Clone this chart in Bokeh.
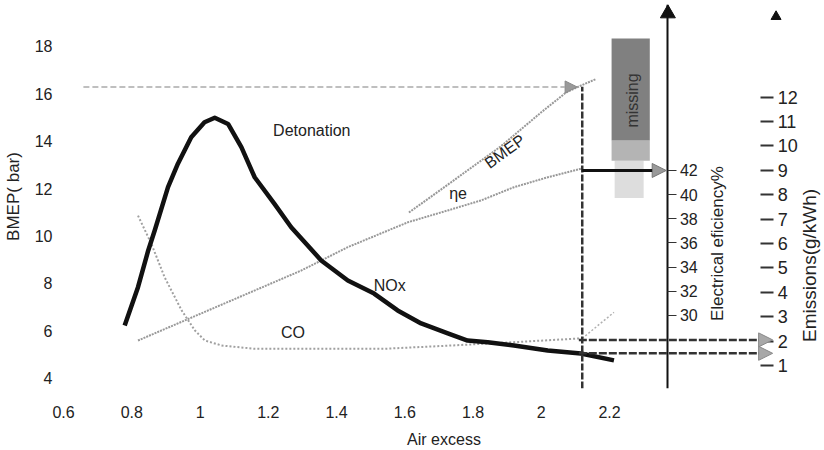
import math
from bokeh.plotting import figure
from bokeh.models import Range1d, LinearAxis, FixedTicker, Arrow, NormalHead
from bokeh.core.properties import value
from bokeh.embed import file_html
from bokeh.resources import INLINE

FONT = "Liberation Sans"

# ---- axes ----
X_TICKS = [0.6, 0.8, 1.0, 1.2, 1.4, 1.6, 1.8, 2.0, 2.2]
X_TICK_LABELS = ["0.6", "0.8", "1", "1.2", "1.4", "1.6", "1.8", "2", "2.2"]
BMEP_TICKS = [4, 6, 8, 10, 12, 14, 16, 18]
EFF_TICKS = [30, 32, 34, 36, 38, 40, 42]
EMIS_TICKS = [1, 2, 3, 4, 5, 6, 7, 8, 9, 10, 11, 12]

# ---- curves (air excess vs. BMEP-scale position) ----
NOX_LAMBDA = [0.779, 0.818, 0.848, 0.867, 0.906, 0.935, 0.974, 1.013, 1.043, 1.082,
              1.121, 1.160, 1.218, 1.267, 1.355, 1.433, 1.510, 1.579, 1.648, 1.726,
              1.784, 1.843, 1.920, 2.019, 2.116, 2.213]
NOX_Y = [6.22, 7.84, 9.39, 10.23, 12.06, 13.05, 14.17, 14.80, 14.99, 14.73,
         13.75, 12.48, 11.36, 10.37, 8.97, 8.12, 7.57, 6.86, 6.31, 5.89,
         5.59, 5.52, 5.38, 5.17, 5.04, 4.75]

CO_LAMBDA = [0.818, 0.857, 0.896, 0.946, 0.985, 1.014, 1.063, 1.160, 1.306, 1.540,
             1.736, 1.920, 2.116]
CO_Y = [10.86, 9.68, 8.26, 6.86, 6.01, 5.59, 5.38, 5.24, 5.24, 5.24,
        5.38, 5.52, 5.68]

ETA_LAMBDA = [0.818, 1.296, 1.433, 1.609, 1.726, 1.823, 1.920, 2.019, 2.116]
ETA_Y = [5.59, 8.54, 9.53, 10.58, 11.08, 11.50, 12.06, 12.48, 12.84]

BMEP_LAMBDA = [1.612, 1.735, 1.881, 1.999, 2.072, 2.116, 2.160]
BMEP_Y = [10.99, 12.26, 13.78, 15.21, 16.05, 16.35, 16.62]

# ---- detonation limit and operating point ----
DET_LIMIT_BMEP = 16.29
DET_LIMIT_LAMBDA = [0.658, 2.105]
LAMBDA_OP = 2.12
LAMBDA_OP_BMEP = [3.565, 16.3]
ETA_OP = 42
CO_OP = 2.05
NOX_OP = 1.5
CO_TAIL_LAMBDA = [2.12, 2.213]
CO_TAIL_Y = [5.68, 6.78]
EFF_AXIS_LAMBDA = 2.371
EMIS_AXIS_LAMBDA = 2.643
EMIS_ARROW_TIP = 2.678

# ---- "missing" box ----
BOX_LAMBDA = [2.206, 2.318]
BOX_DARK_BMEP = [14.03, 18.33]
BOX_LIGHT_BMEP = [13.18, 14.03]
BOX_FAINT_LAMBDA = [2.215, 2.300]
BOX_FAINT_BMEP = [11.6, 13.18]
BOX_TEXT_POS = (2.268, 15.72)

# ---- text labels ----
LABELS = ["Detonation", "NOx", "CO", "ηe"]
LABEL_LAMBDA = [1.214, 1.509, 1.237, 1.73]
LABEL_Y = [14.45, 7.91, 5.93, 11.79]
BMEP_LABEL_POS = (1.893, 13.57)
EFF_TITLE = "Electrical eficiency%"
EFF_TITLE_POS = (2.517, 9.68)
EMIS_TITLE = "Emissions(g/kWh)"
EMIS_TITLE_POS = (2.787, 8.76)

p = figure(width=824, height=450,
           x_range=Range1d(0.5997, 2.830), y_range=Range1d(3.565, 19.77),
           output_backend="svg", toolbar_location=None,
           min_border_left=62, min_border_right=0, min_border_top=4, min_border_bottom=62)
p.extra_y_ranges = {"eff": Range1d(23.95, 55.74), "emis": Range1d(0.057, 15.80)}
p.grid.visible = False
p.outline_line_color = None
p.background_fill_color = "white"
p.border_fill_color = "white"

# x axis
xa = p.xaxis[0]
xa.ticker = FixedTicker(ticks=X_TICKS)
xa.major_label_overrides = {t: l for t, l in zip(X_TICKS, X_TICK_LABELS)}
xa.axis_line_color = None
xa.major_tick_line_color = None
xa.minor_tick_line_color = None
xa.major_label_standoff = 11
xa.major_label_text_font = FONT
xa.major_label_text_font_size = "16px"
xa.major_label_text_color = "#222222"
xa.axis_label = "Air excess"
xa.axis_label_text_font = FONT
xa.axis_label_text_font_size = "16px"
xa.axis_label_text_font_style = "normal"
xa.axis_label_text_color = "#222222"
xa.axis_label_standoff = 10

ya = p.yaxis[0]
ya.ticker = FixedTicker(ticks=BMEP_TICKS)
ya.axis_line_color = None
ya.major_tick_line_color = None
ya.minor_tick_line_color = None
ya.major_label_standoff = 5
ya.major_label_text_font = FONT
ya.major_label_text_font_size = "16px"
ya.major_label_text_color = "#222222"
ya.axis_label = "BMEP( bar)"
ya.axis_label_text_font = FONT
ya.axis_label_text_font_size = "17px"
ya.axis_label_text_font_style = "normal"
ya.axis_label_text_color = "#222222"
ya.axis_label_standoff = 9

eff_axis = LinearAxis(y_range_name="eff", fixed_location=EFF_AXIS_LAMBDA,
                      ticker=FixedTicker(ticks=EFF_TICKS))
eff_axis.axis_line_color = "#111111"
eff_axis.axis_line_width = 2
eff_axis.major_tick_out = 9
eff_axis.major_tick_in = 0
eff_axis.major_tick_line_color = "#333333"
eff_axis.minor_tick_line_color = None
eff_axis.major_label_standoff = 3
eff_axis.major_label_text_font = FONT
eff_axis.major_label_text_font_size = "16px"
eff_axis.major_label_text_color = "#222222"
p.add_layout(eff_axis, "right")

emis_axis = LinearAxis(y_range_name="emis", fixed_location=EMIS_AXIS_LAMBDA,
                       ticker=FixedTicker(ticks=EMIS_TICKS))
emis_axis.axis_line_color = None
emis_axis.major_tick_out = 13
emis_axis.major_tick_in = 0
emis_axis.major_tick_line_width = 2
emis_axis.major_tick_line_color = "#333333"
emis_axis.minor_tick_line_color = None
emis_axis.major_label_standoff = 4
emis_axis.major_label_text_font = FONT
emis_axis.major_label_text_font_size = "18px"
emis_axis.major_label_text_color = "#222222"
p.add_layout(emis_axis, "right")

# gray "missing" box
p.quad(left=[BOX_FAINT_LAMBDA[0]], right=[BOX_FAINT_LAMBDA[1]],
       bottom=[BOX_FAINT_BMEP[0]], top=[BOX_FAINT_BMEP[1]],
       fill_color="#dddddd", line_color=None)
p.quad(left=[BOX_LAMBDA[0]], right=[BOX_LAMBDA[1]],
       bottom=[BOX_LIGHT_BMEP[0]], top=[BOX_LIGHT_BMEP[1]],
       fill_color="#b4b4b4", line_color=None)
p.quad(left=[BOX_LAMBDA[0]], right=[BOX_LAMBDA[1]],
       bottom=[BOX_DARK_BMEP[0]], top=[BOX_DARK_BMEP[1]],
       fill_color="#808080", line_color=None)
p.text(x=[BOX_TEXT_POS[0]], y=[BOX_TEXT_POS[1]], text=["missing"], angle=math.pi / 2,
       text_align="center", text_baseline="middle", text_color="#333333",
       text_font=value(FONT), text_font_size="16px")

# detonation limit line
p.add_layout(Arrow(x_start=DET_LIMIT_LAMBDA[0], y_start=DET_LIMIT_BMEP,
                   x_end=DET_LIMIT_LAMBDA[1], y_end=DET_LIMIT_BMEP,
                   line_color="#aaaaaa", line_width=1.5, line_dash="6 3",
                   end=NormalHead(size=12, fill_color="#9a9a9a", line_color="#888888")))

# gray dotted curves
p.line(CO_LAMBDA, CO_Y, line_color="#a0a0a0", line_width=2, line_dash="2 2")
p.line(CO_TAIL_LAMBDA, CO_TAIL_Y, line_color="#b0b0b0", line_width=1.5, line_dash="2 2")
p.line(ETA_LAMBDA, ETA_Y, line_color="#999999", line_width=2, line_dash="2 1")
p.line(BMEP_LAMBDA, BMEP_Y, line_color="#999999", line_width=2, line_dash="2 1")

# NOx thick curve
p.line(NOX_LAMBDA, NOX_Y, line_color="#111111", line_width=4.5, line_join="round")

# operating point vertical line
p.line([LAMBDA_OP, LAMBDA_OP], LAMBDA_OP_BMEP, line_color="#333333", line_width=2.5,
       line_dash="7 2")

# arrows to secondary axes
p.add_layout(Arrow(x_start=LAMBDA_OP, y_start=ETA_OP, x_end=EFF_AXIS_LAMBDA - 0.005, y_end=ETA_OP,
                   y_range_name="eff", line_color="#111111", line_width=3,
                   end=NormalHead(size=14, fill_color="#9a9a9a", line_color="#777777")))
for v in (CO_OP, NOX_OP):
    p.add_layout(Arrow(x_start=LAMBDA_OP - 0.01, y_start=v, x_end=EMIS_ARROW_TIP, y_end=v,
                       y_range_name="emis", line_color="#333333", line_width=2.5,
                       line_dash="8 2",
                       end=NormalHead(size=14, fill_color="#a8a8a8", line_color="#888888")))

# axis arrowheads
p.scatter(x=[EFF_AXIS_LAMBDA], y=[19.39], marker="triangle", size=15, color="#111111")
p.scatter(x=[EMIS_ARROW_TIP + 0.01], y=[19.26], marker="triangle", size=10, color="#111111")

# text labels
p.text(x=LABEL_LAMBDA, y=LABEL_Y, text=LABELS, text_align="left", text_baseline="middle",
       text_color="#222222", text_font=value(FONT), text_font_size="16px")
p.text(x=[BMEP_LABEL_POS[0]], y=[BMEP_LABEL_POS[1]], text=["BMEP"], angle=0.63,
       text_align="center", text_baseline="middle", text_color="#222222",
       text_font=value(FONT), text_font_size="16px")
p.text(x=[EFF_TITLE_POS[0]], y=[EFF_TITLE_POS[1]], text=[EFF_TITLE], angle=math.pi / 2,
       text_align="center", text_baseline="middle", text_color="#222222",
       text_font=value(FONT), text_font_size="17px")
p.text(x=[EMIS_TITLE_POS[0]], y=[EMIS_TITLE_POS[1]], text=[EMIS_TITLE], angle=math.pi / 2,
       text_align="center", text_baseline="middle", text_color="#222222",
       text_font=value(FONT), text_font_size="19px")

open("out.html", "w").write(file_html(p, INLINE))
